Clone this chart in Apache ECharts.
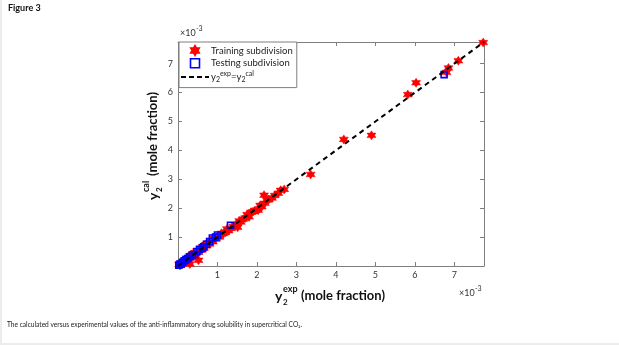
<!DOCTYPE html>
<html>
<head>
<meta charset="utf-8">
<script src="https://cdn.jsdelivr.net/npm/echarts@6/dist/echarts.min.js"></script>
<style>
  html, body { margin: 0; padding: 0; background: #ececec; }
  #main { position: absolute; left: 2px; top: 0; width: 617px; height: 343px; background: #fff; }
</style>
</head>
<body>
<div id="main"></div>
<script>
// values in units of 1e-3 mole fraction
var trainingData = [
    [0.03,0.05],[0.05,0.02],[0.08,0.10],[0.10,0.06],[0.12,0.15],[0.15,0.12],[0.18,0.20],[0.20,0.16],
    [0.23,0.27],[0.25,0.22],[0.28,0.30],[0.30,0.07],[0.30,0.35],[0.33,0.28],[0.36,0.40],[0.38,0.34],
    [0.42,0.46],[0.45,0.42],[0.48,0.52],[0.52,0.20],[0.52,0.48],[0.56,0.60],[0.60,0.55],[0.63,0.67],
    [0.66,0.62],[0.70,0.74],[0.73,0.70],[0.77,0.80],[0.80,0.76],[0.84,0.88],[0.88,0.84],[0.92,0.95],
    [0.96,0.93],[1.00,1.03],[1.05,1.00],[1.10,1.13],[1.15,1.12],[1.20,1.17],[1.24,1.28],[1.28,1.22],
    [1.35,1.30],[1.40,1.37],[1.45,1.42],[1.51,1.34],[1.55,1.56],[1.59,1.52],[1.65,1.62],[1.70,1.66],
    [1.75,1.78],[1.80,1.70],[1.85,1.86],[1.90,1.88],[1.95,1.92],[2.03,1.93],[2.08,2.10],[2.12,2.05],
    [2.18,2.45],[2.20,2.17],[2.25,2.28],[2.30,2.30],[2.38,2.35],[2.45,2.44],[2.54,2.52],[2.60,2.62],
    [2.69,2.65],[3.36,3.17],[4.20,4.38],[4.90,4.52],[5.82,5.93],[6.03,6.34],[6.80,6.70],[6.85,6.85],
    [7.10,7.10],[7.73,7.73]
];
var testingData = [
    [0.02,0.03],[0.05,0.07],[0.08,0.06],[0.12,0.13],[0.16,0.18],[0.20,0.22],[0.25,0.26],[0.30,0.32],
    [0.36,0.38],[0.42,0.40],[0.48,0.50],[0.55,0.58],[0.62,0.62],[0.65,0.66],[0.72,0.75],[0.80,0.85],
    [0.87,0.97],[0.95,1.00],[1.00,1.07],[1.33,1.41],[6.74,6.62]
];
var parityLine = [[0, 0], [7.75, 7.75]];
var axisMin = 0, axisMax = 7.75, tickStep = 1;

var fontName = 'Lato';
var hexagram = 'path://M0,-10 L2.887,-5 L8.66,-5 L5.774,0 L8.66,5 L2.887,5 L0,10 L-2.887,5 L-8.66,5 L-5.774,0 L-8.66,-5 L-2.887,-5 Z';
var squareIcon = 'path://M0,0 L10,0 L10,10 L0,10 Z';
var dashIcon = 'path://M0,0 h5 v2 h-5 Z M8,0 h5 v2 h-5 Z M16,0 h5 v2 h-5 Z M24,0 h4 v2 h-4 Z';
var boxColor = '#7f7f7f';

var myChart = echarts.init(document.getElementById('main'), null, { renderer: 'canvas' });

function makeAxis(pos, showLabel) {
    return {
        type: 'value',
        position: pos,
        min: axisMin,
        max: axisMax,
        interval: tickStep,
        axisLine: { show: true, onZero: false, lineStyle: { color: boxColor, width: 1 } },
        axisTick: { show: true, inside: true, length: 4, lineStyle: { color: boxColor } },
        splitLine: { show: false },
        axisLabel: {
            show: showLabel,
            margin: 5,
            color: '#333',
            fontFamily: fontName,
            fontSize: 9,
            showMaxLabel: false,
            formatter: function (v) { return v === 0 ? '' : String(v); }
        }
    };
}

// label "y2^sup (mole fraction)" built from pieces
function axisTitle(sup) {
    return [
        { type: 'text', x: 0, y: 0, style: { text: 'y', font: 'bold 14px ' + fontName, fill: '#111', textVerticalAlign: 'middle' } },
        { type: 'text', x: 8, y: 6, style: { text: '2', font: 'bold 8px ' + fontName, fill: '#111', textVerticalAlign: 'middle' } },
        { type: 'text', x: 8, y: -7, style: { text: sup, font: 'bold 9px ' + fontName, fill: '#111', textVerticalAlign: 'middle' } },
        { type: 'text', x: sup === 'exp' ? 26 : 24, y: 0, style: { text: '(mole fraction)', font: 'bold 13px ' + fontName, fill: '#111', textVerticalAlign: 'middle' } }
    ];
}

function scaleNote(x, y) {
    return {
        type: 'group', x: x, y: y,
        children: [
            { type: 'text', x: 0, y: 0, style: { text: '\u00d710', font: '9px ' + fontName, fill: '#333', textVerticalAlign: 'middle' } },
            { type: 'text', x: 16, y: -4, style: { text: '-3', font: '7px ' + fontName, fill: '#333', textVerticalAlign: 'middle' } }
        ]
    };
}

var option = {
    backgroundColor: '#fff',
    animation: false,
    grid: { left: 176, top: 42, right: 135, bottom: 77, containLabel: false },
    xAxis: [makeAxis('bottom', true), makeAxis('top', false)],
    yAxis: [makeAxis('left', true), makeAxis('right', false)],
    legend: {
        orient: 'vertical',
        left: 177,
        top: 42,
        padding: [3, 4, 4, 2],
        itemGap: 2,
        itemWidth: 28,
        itemHeight: 9,
        backgroundColor: '#fff',
        borderColor: boxColor,
        borderWidth: 1,
        borderRadius: 0,
        selectedMode: false,
        data: [
            { name: 'Training subdivision', icon: hexagram },
            { name: 'Testing subdivision', icon: squareIcon, itemStyle: { borderWidth: 1.6 } },
            { name: 'parity', icon: dashIcon, itemStyle: { color: '#000' } }
        ],
        textStyle: {
            fontFamily: fontName,
            fontSize: 9.5,
            color: '#222',
            padding: [0, 0, 0, -3],
            rich: {
                y: { fontFamily: fontName, fontSize: 9.5, color: '#222' },
                sub: { fontFamily: fontName, fontSize: 7, color: '#222', verticalAlign: 'bottom', lineHeight: 13 },
                sup: { fontFamily: fontName, fontSize: 7, color: '#222', verticalAlign: 'top', lineHeight: 13 }
            }
        },
        formatter: function (name) {
            if (name === 'parity') {
                return '{y|y}{sub|2}{sup|exp}{y|=y}{sub|2}{sup|cal}';
            }
            return name;
        }
    },
    series: [
        {
            name: 'Training subdivision',
            type: 'scatter',
            symbol: hexagram,
            symbolSize: 9,
            itemStyle: { color: '#ff0000', borderColor: '#ff0000', borderWidth: 0.5, opacity: 1 },
            data: trainingData,
            z: 2
        },
        {
            name: 'Testing subdivision',
            type: 'scatter',
            symbol: 'rect',
            symbolSize: 6,
            itemStyle: { color: 'rgba(255,255,255,0)', borderColor: '#0000ff', borderWidth: 1.6, opacity: 1 },
            data: testingData,
            z: 3
        },
        {
            name: 'parity',
            type: 'line',
            symbol: 'none',
            data: parityLine,
            lineStyle: { color: '#000', width: 2, type: [5, 4] },
            itemStyle: { color: '#000' },
            z: 4
        }
    ],
    graphic: [
        { type: 'text', left: 6, top: 4, style: { text: 'Figure 3', font: 'bold 9px ' + fontName, fill: '#111' } },
        scaleNote(178, 33),
        scaleNote(457, 293),
        { type: 'group', x: 273, y: 296, children: axisTitle('exp') },
        { type: 'group', x: 151, y: 200, rotation: Math.PI / 2, children: axisTitle('cal') },
        {
            type: 'text', left: 5, top: 321,
            style: {
                text: 'The calculated versus experimental values of the anti-inflammatory drug solubility in supercritical CO\u2082.',
                font: '6.6px ' + fontName, fill: '#222'
            }
        }
    ]
};

myChart.setOption(option);
</script>
</body>
</html>
